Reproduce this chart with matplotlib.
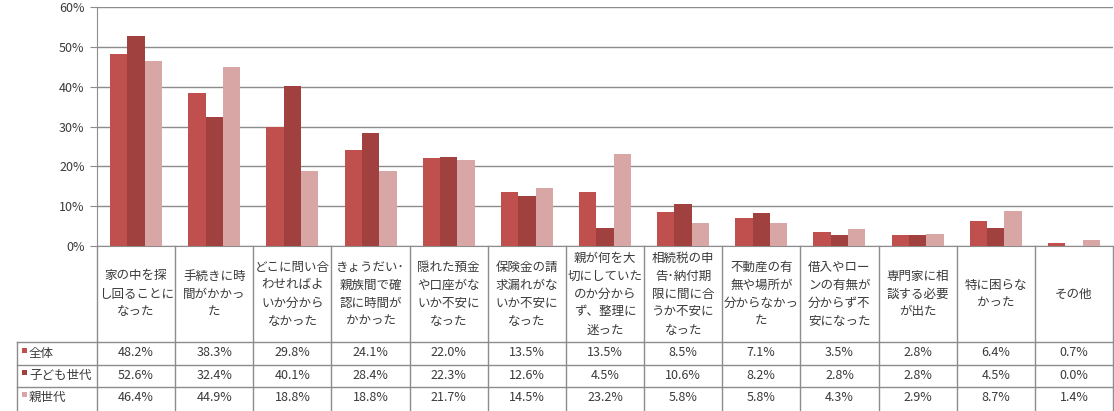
import matplotlib
matplotlib.use("Agg")
import matplotlib.pyplot as plt
from matplotlib.transforms import blended_transform_factory
from matplotlib.patches import Rectangle
from matplotlib.lines import Line2D
import numpy as np

plt.rcParams['font.family'] = ['Noto Sans CJK JP', 'DejaVu Sans']

categories = [
    "家の中を探\nし回ることに\nなった",
    "手続きに時\n間がかかっ\nた",
    "どこに問い合\nわせればよ\nいか分から\nなかった",
    "きょうだい･\n親族間で確\n認に時間が\nかかった",
    "隠れた預金\nや口座がな\nいか不安に\nなった",
    "保険金の請\n求漏れがな\nいか不安に\nなった",
    "親が何を大\n切にしていた\nのか分から\nず、整理に\n迷った",
    "相続税の申\n告･納付期\n限に間に合\nうか不安に\nなった",
    "不動産の有\n無や場所が\n分からなかっ\nた",
    "借入やロー\nンの有無が\n分からず不\n安になった",
    "専門家に相\n談する必要\nが出た",
    "特に困らな\nかった",
    "その他",
]
series_names = ["全体", "子ども世代", "親世代"]
zentai = [48.2, 38.3, 29.8, 24.1, 22.0, 13.5, 13.5, 8.5, 7.1, 3.5, 2.8, 6.4, 0.7]
kodomo = [52.6, 32.4, 40.1, 28.4, 22.3, 12.6, 4.5, 10.6, 8.2, 2.8, 2.8, 4.5, 0.0]
oya = [46.4, 44.9, 18.8, 18.8, 21.7, 14.5, 23.2, 5.8, 5.8, 4.3, 2.9, 8.7, 1.4]
yticks = [0, 10, 20, 30, 40, 50, 60]

series = [zentai, kodomo, oya]
colors = ["#C0504D", "#A0403F", "#D9A6A6"]
grid_c = "#8C8C8C"
text_c = "#3A3A3A"

W, H = 1114, 411
fig = plt.figure(figsize=(W / 100, H / 100), dpi=100)
L, R, T, B = 97, 1113, 7, 246
ax = fig.add_axes([L / W, 1 - B / H, (R - L) / W, (B - T) / H])

n = len(categories)
x = np.arange(n)
bw = 0.222
for i, (vals, c) in enumerate(zip(series, colors)):
    ax.bar(x + (i - 1) * bw, vals, width=bw, color=c, edgecolor='none', zorder=3)

ax.set_xlim(-0.5, n - 0.5)
ax.set_ylim(0, 60)
ax.set_yticks(yticks)
ax.set_yticklabels([f"{v}%" for v in yticks], fontsize=9, color=text_c)
ax.set_xticks([])
ax.yaxis.grid(True, color=grid_c, linewidth=1.0, zorder=0)
for s in ['top', 'right']:
    ax.spines[s].set_visible(False)
ax.spines['left'].set_color(grid_c)
ax.spines['bottom'].set_color(grid_c)
ax.tick_params(axis='y', length=5, color=grid_c, pad=4)

def fy(py):
    return 1 - py / H

def fx(px):
    return px / W

tr = blended_transform_factory(ax.transData, fig.transFigure)
ftr = fig.transFigure

lw = 1.0
for k in range(n + 1):
    xb = k - 0.5
    fig.add_artist(Line2D([xb, xb], [fy(B), fy(H)], transform=tr, color=grid_c, lw=lw))
fig.add_artist(Line2D([fx(17), fx(17)], [fy(342), fy(H)], transform=ftr, color=grid_c, lw=lw))
row_lines = [342, 364.5, 386.5]
for py in row_lines:
    fig.add_artist(Line2D([fx(17), fx(R)], [fy(py), fy(py)], transform=ftr, color=grid_c, lw=lw))

center = 294
spacing = 18
for k, lab in enumerate(categories):
    lines = lab.split("\n")
    m = len(lines)
    for j, ln in enumerate(lines):
        py = center + (j - (m - 1) / 2) * spacing
        fig.text(k, fy(py), ln, transform=tr, ha='center', va='center', fontsize=9, color=text_c)

row_centers = [353, 375.5, 397.5]
for r, (name, vals, c) in enumerate(zip(series_names, series, colors)):
    py = row_centers[r]
    fig.add_artist(Rectangle((fx(21.5), fy(py - 0.5)), 5 / W, 5 / H, transform=ftr, color=c, lw=0))
    fig.text(fx(29), fy(py), name, transform=ftr, ha='left', va='center', fontsize=9, color=text_c)
    for k, v in enumerate(vals):
        fig.text(k, fy(py), f"{v:.1f}%", transform=tr, ha='center', va='center', fontsize=9, color=text_c)

fig.savefig("out.png", dpi=100)
